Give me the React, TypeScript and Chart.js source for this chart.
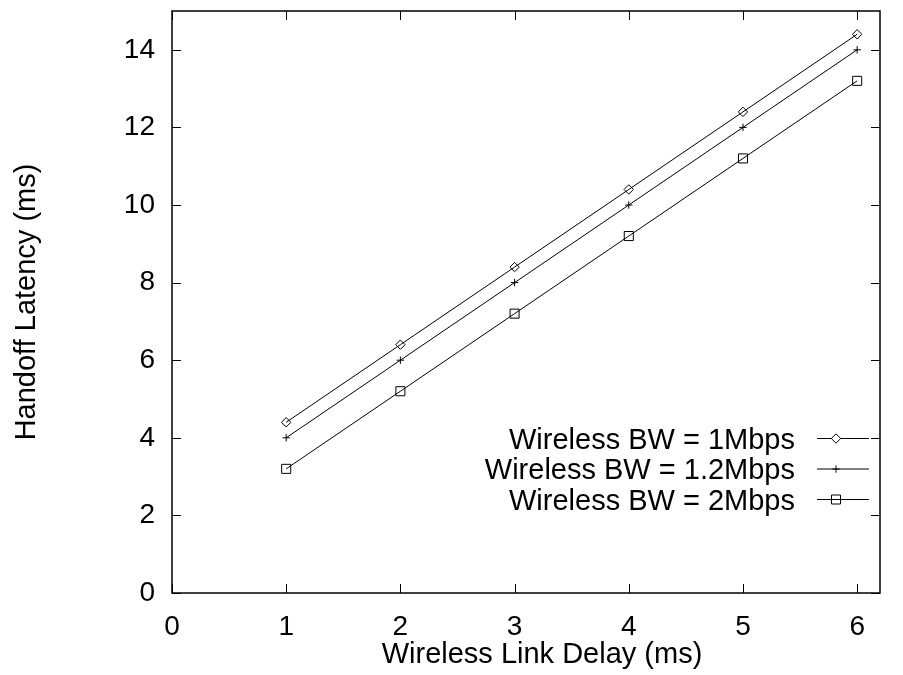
import React, { useEffect, useRef } from 'react';
import { Chart, registerables } from 'chart.js';

Chart.register(...registerables);

const delays = [1, 2, 3, 4, 5, 6];
const bw1 = [4.4, 6.4, 8.4, 10.4, 12.4, 14.4];
const bw12 = [4, 6, 8, 10, 12, 14];
const bw2 = [3.2, 5.2, 7.2, 9.2, 11.2, 13.2];
const seriesLabels = ['Wireless BW = 1Mbps', 'Wireless BW = 1.2Mbps', 'Wireless BW = 2Mbps'];
const seriesStyles = ['rectRot', 'cross', 'rect'];
const xTicks = [0, 1, 2, 3, 4, 5, 6];
const yTicks = [0, 2, 4, 6, 8, 10, 12, 14];
const xTitle = 'Wireless Link Delay (ms)';
const yTitle = 'Handoff Latency (ms)';

const FONT = "'Liberation Sans', Arial, Helvetica, sans-serif";

const framePlugin = {
  id: 'frameAndLegend',
  afterDraw(chart: any) {
    const { ctx, chartArea: a, scales } = chart;
    ctx.save();
    ctx.strokeStyle = '#000';
    ctx.lineWidth = 1;
    const tl = 9;
    ctx.beginPath();
    xTicks.forEach((v) => {
      const px = Math.round(scales.x.getPixelForValue(v)) + 0.5;
      ctx.moveTo(px, a.bottom);
      ctx.lineTo(px, a.bottom - tl);
      ctx.moveTo(px, a.top);
      ctx.lineTo(px, a.top + tl);
    });
    yTicks.forEach((v) => {
      const py = Math.round(scales.y.getPixelForValue(v)) + 0.5;
      ctx.moveTo(a.left, py);
      ctx.lineTo(a.left + tl, py);
      ctx.moveTo(a.right, py);
      ctx.lineTo(a.right - tl, py);
    });
    ctx.stroke();
    ctx.lineWidth = 1.5;
    ctx.strokeRect(a.left, a.top, a.right - a.left, a.bottom - a.top);

    // x axis title
    ctx.font = `29px ${FONT}`;
    ctx.fillStyle = '#000';
    ctx.textAlign = 'center';
    ctx.textBaseline = 'alphabetic';
    ctx.fillText(xTitle, 542, 663);

    // legend
    const textRight = 795;
    const lineL = 817;
    const lineR = 869;
    const mx = 836;
    ctx.textAlign = 'right';
    ctx.textBaseline = 'middle';
    seriesLabels.forEach((lab, i) => {
      const y = 438.5 + i * 30.5;
      ctx.fillText(lab, textRight, y + 2);
      ctx.lineWidth = 1;
      ctx.beginPath();
      ctx.moveTo(lineL, y);
      ctx.lineTo(lineR, y);
      ctx.stroke();
      ctx.beginPath();
      const st = seriesStyles[i];
      if (st === 'rectRot') {
        const r = 4.7;
        ctx.moveTo(mx - r, y);
        ctx.lineTo(mx, y - r);
        ctx.lineTo(mx + r, y);
        ctx.lineTo(mx, y + r);
        ctx.closePath();
        ctx.fillStyle = '#fff';
        ctx.fill();
        ctx.fillStyle = '#000';
      } else if (st === 'cross') {
        const r = 3.7;
        ctx.moveTo(mx - r, y);
        ctx.lineTo(mx + r, y);
        ctx.moveTo(mx, y - r);
        ctx.lineTo(mx, y + r);
      } else {
        const h = 4.5;
        ctx.rect(mx - h, y - h, 2 * h, 2 * h);
      }
      ctx.stroke();
    });
    ctx.restore();
  },
};

function makeDataset(label: string, vals: number[], style: string, radius: number) {
  return {
    label,
    data: delays.map((d, i) => ({ x: d, y: vals[i] })),
    borderColor: '#000',
    borderWidth: 1,
    showLine: true,
    fill: false,
    tension: 0,
    pointStyle: style,
    pointRadius: radius,
    pointHoverRadius: radius,
    pointBorderWidth: 1,
    pointBorderColor: '#000',
    pointBackgroundColor: 'rgba(0,0,0,0)',
  };
}

export default function App() {
  const ref = useRef<HTMLCanvasElement | null>(null);
  useEffect(() => {
    if (!ref.current) return;
    const chart = new Chart(ref.current, {
      type: 'scatter',
      data: {
        datasets: [
          makeDataset(seriesLabels[0], bw1, 'rectRot', 4.7),
          makeDataset(seriesLabels[1], bw12, 'cross', 3.7),
          makeDataset(seriesLabels[2], bw2, 'rect', 6.4),
        ],
      },
      options: {
        animation: false,
        responsive: false,
        devicePixelRatio: 1,
        layout: { padding: { top: 11, right: 23, left: 0, bottom: 0 } },
        plugins: { legend: { display: false }, tooltip: { enabled: false } },
        scales: {
          x: {
            type: 'linear',
            min: 0,
            max: 6.2,
            afterBuildTicks: (s: any) => {
              s.ticks = xTicks.map((v) => ({ value: v }));
            },
            afterFit: (s: any) => {
              s.height = 82;
              s.paddingLeft = 0;
              s.paddingRight = 0;
            },
            ticks: {
              font: { family: FONT, size: 28 },
              color: '#000',
              padding: 17,
              maxRotation: 0,
              autoSkip: false,
            },
            grid: { display: false, drawTicks: false },
            border: { display: false },
            title: { display: false },
          },
          y: {
            type: 'linear',
            min: 0,
            max: 15,
            afterBuildTicks: (s: any) => {
              s.ticks = yTicks.map((v) => ({ value: v }));
            },
            afterFit: (s: any) => {
              s.width = 172;
              s.paddingTop = 0;
              s.paddingBottom = 0;
            },
            ticks: {
              font: { family: FONT, size: 28 },
              color: '#000',
              padding: 17,
              autoSkip: false,
            },
            grid: { display: false, drawTicks: false },
            border: { display: false },
            title: {
              display: true,
              text: yTitle,
              color: '#000',
              font: { family: FONT, size: 29, lineHeight: 1.2 },
              padding: { top: 10, bottom: 0 },
            },
          },
        },
      },
      plugins: [framePlugin],
    } as any);
    return () => chart.destroy();
  }, []);
  return (
    <div style={{ position: 'absolute', left: 0, top: 0, width: 903, height: 675, background: '#fff' }}>
      <canvas ref={ref} width={903} height={675} style={{ display: 'block' }} />
    </div>
  );
}
